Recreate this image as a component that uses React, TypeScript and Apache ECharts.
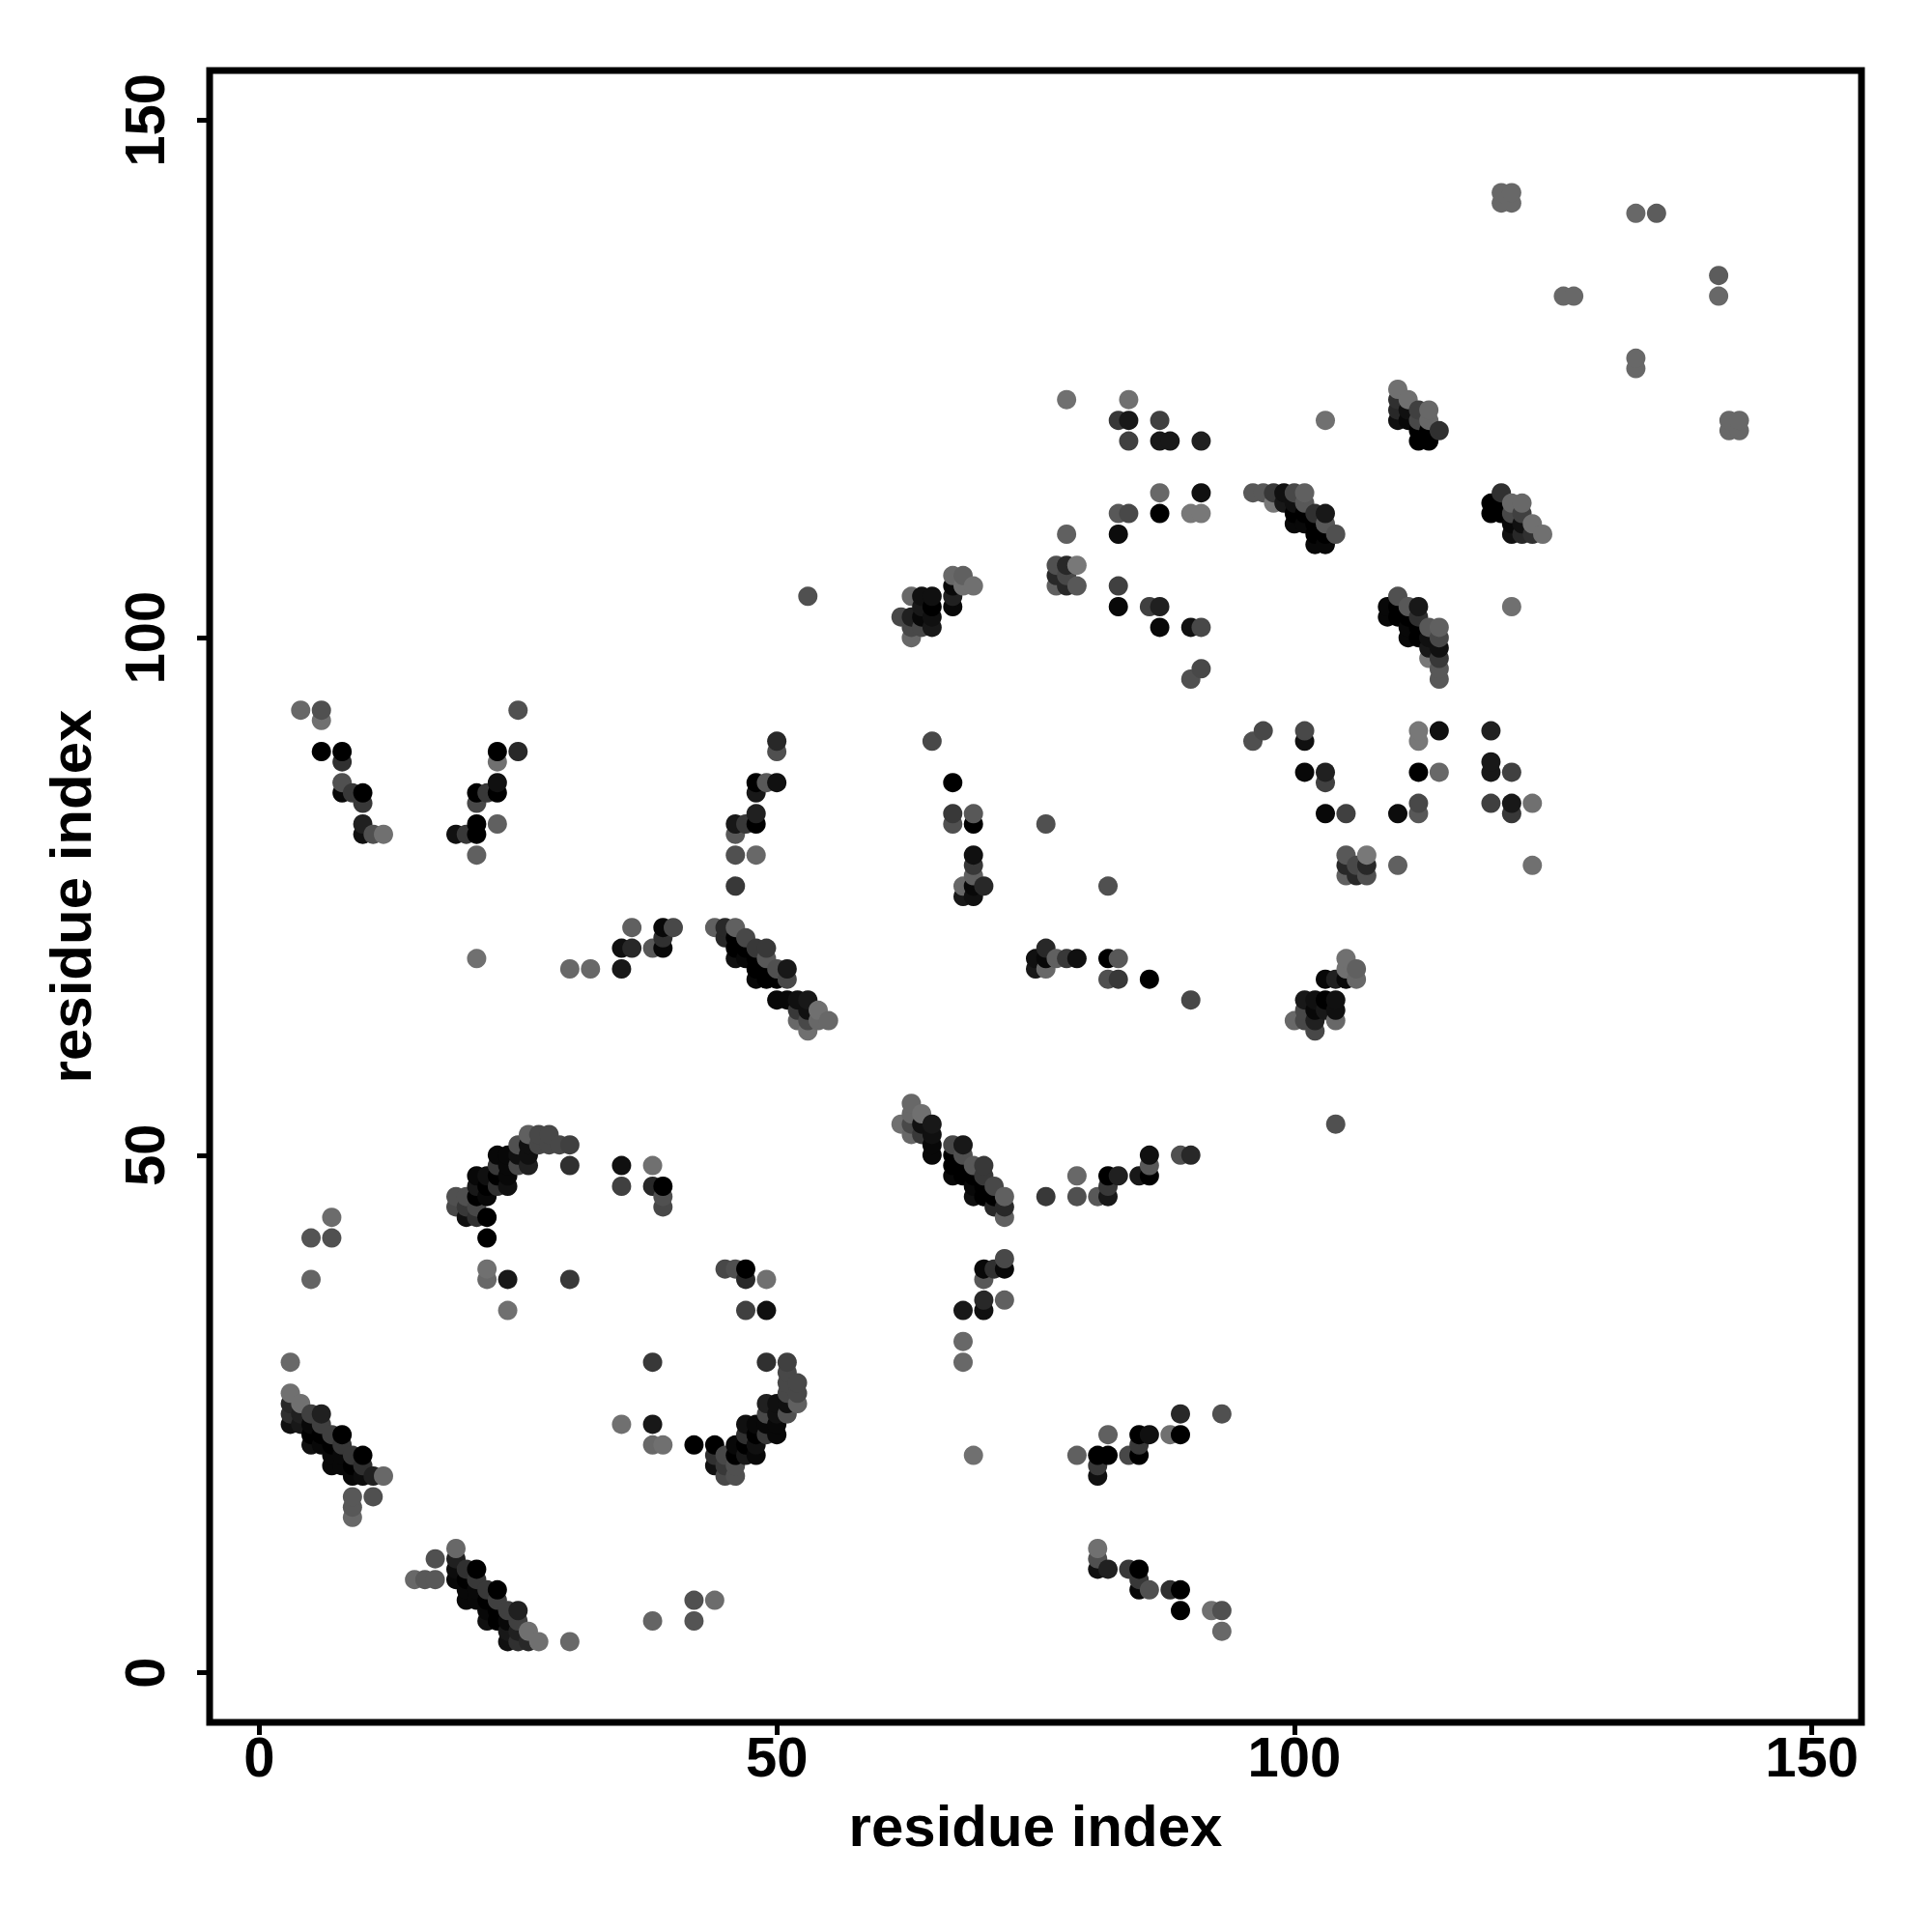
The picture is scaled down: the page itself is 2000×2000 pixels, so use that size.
import React, { useEffect, useRef } from "react";
import * as echarts from "echarts";

type Contact = [number, number, number];

// Contacts [residue i, residue j, grey level]; the map is symmetric, each pair listed once with i < j.
const hairpinA: Contact[] = [
  [3,24,16],[3,25,48],[3,26,40],[3,27,112],[3,30,104],
  [4,24,24],[4,25,32],[4,26,112],
  [5,22,16],[5,23,0],[5,24,8],[5,25,64],[5,38,100],[5,42,84],
  [6,22,8],[6,23,0],[6,24,64],[6,25,32],
  [7,20,8],[7,21,8],[7,22,0],[7,23,64],[7,42,80],[7,44,108],
  [8,20,8],[8,21,8],[8,22,56],[8,23,0],
  [9,15,104],[9,16,88],[9,17,88],[9,19,8],[9,20,0],[9,21,56],
  [10,19,12],[10,20,48],[10,21,0],
  [11,17,80],[11,19,32],[12,19,104],
];
const arcB: Contact[] = [
  [19,45,72],[19,46,80],[20,44,16],[20,45,56],[20,46,80],
  [21,44,48],[21,45,72],[21,46,0],[21,47,24],[21,48,8],
  [22,38,104],[22,39,112],[22,42,0],[22,44,0],[22,46,8],[22,47,0],[22,48,16],
  [23,47,48],[23,48,0],[23,49,56],[23,50,8],
  [24,35,112],[24,38,24],[24,47,16],[24,48,8],[24,49,8],[24,50,8],
  [25,49,72],[25,50,16],[25,51,80],
  [26,49,32],[26,50,16],[26,51,16],[26,52,96],
  [27,51,72],[27,52,72],[28,51,72],[28,52,72],[29,51,72],
  [30,38,56],[30,49,48],[30,51,64],[30,68,104],[32,68,104],
];
const pocketC: Contact[] = [
  [35,47,64],[35,49,16],[35,68,24],[35,70,16],[36,70,40],[36,72,96],
  [38,47,40],[38,49,112],[38,70,88],
  [39,45,72],[39,46,80],[39,47,0],[39,70,8],[39,71,48],[39,72,8],[40,72,72],
];
const sheetD: Contact[] = [
  [44,72,96],[45,71,40],[45,72,40],
  [46,69,16],[46,70,0],[46,71,0],[46,72,96],[46,76,56],[46,79,80],[46,81,88],[46,82,24],
  [47,69,8],[47,70,0],[47,71,72],[47,82,56],
  [48,67,8],[48,68,0],[48,69,0],[48,70,56],[48,79,104],[48,82,0],[48,83,32],[48,85,24],[48,86,0],
  [49,67,0],[49,68,0],[49,69,88],[49,70,56],[49,86,88],
  [50,65,8],[50,67,0],[50,68,80],[50,86,16],[50,89,80],[50,90,40],
  [51,65,8],[51,67,72],[51,68,24],
  [52,63,104],[52,64,56],[52,65,16],
  [53,62,112],[53,63,72],[53,64,16],[53,65,24],[53,104,80],
  [54,63,104],[54,64,112],[55,63,104],
];
const clusterE: Contact[] = [
  [4,93,104],[6,89,0],[6,92,112],[6,93,80],
  [8,85,8],[8,86,80],[8,88,48],[8,89,0],[9,85,56],
  [10,81,16],[10,82,32],[10,84,56],[10,85,0],[11,81,80],[12,81,112],
  [19,81,16],[20,81,56],[21,69,112],[21,79,96],[21,81,0],[21,82,0],[21,84,72],[21,85,0],
  [22,85,56],[23,82,96],[23,85,0],[23,86,16],[23,88,112],[23,89,0],[25,89,40],[25,93,80],
];
const clusterF: Contact[] = [
  [62,102,72],[63,100,104],[63,101,72],[63,102,32],[63,104,104],
  [64,101,72],[64,102,8],[64,103,24],[64,104,16],
  [65,90,72],[65,101,24],[65,102,16],[65,103,0],[65,104,16],
  [67,82,80],[67,83,56],[67,86,0],[67,103,8],[67,104,32],[67,105,8],[67,106,104],
  [68,75,24],[68,76,104],[68,105,112],[68,106,96],
  [69,75,16],[69,76,8],[69,77,96],[69,78,56],[69,79,16],[69,82,0],[69,83,88],[69,105,112],
  [70,76,40],[76,82,80],
];
const clusterG: Contact[] = [
  [77,105,96],[77,106,40],[77,107,80],[78,105,40],[78,106,72],[78,107,40],[78,110,96],[78,123,112],
  [79,105,88],[79,107,120],
  [83,103,8],[83,105,64],[83,110,12],[83,112,88],[83,121,56],
  [84,112,72],[84,119,64],[84,121,24],[84,123,112],
  [86,103,64],[87,101,8],[87,103,32],[87,112,0],[87,114,104],[87,119,24],[87,121,64],[88,119,24],
  [90,96,80],[90,101,16],[90,112,120],[91,97,72],[91,101,72],[91,112,120],[91,114,16],[91,119,32],
];
const sheetH: Contact[] = [
  [96,114,88],[97,114,88],[98,113,120],[98,114,56],[99,113,24],[99,114,16],
  [100,111,8],[100,112,0],[100,113,16],[100,114,72],
  [101,111,8],[101,112,0],[101,113,88],[101,114,96],
  [102,109,8],[102,110,0],[102,111,0],[102,112,48],
  [103,109,8],[103,110,0],[103,111,88],[103,112,24],[103,121,112],[104,110,80],
];
const sheetI: Contact[] = [
  [110,121,16],[110,122,40],[110,123,48],[110,124,112],
  [111,121,8],[111,122,16],[111,123,112],
  [112,119,0],[112,120,0],[112,121,72],[112,122,64],
  [113,119,0],[113,120,0],[113,121,104],[113,122,104],[114,120,48],
];
const tailK: Contact[] = [
  [120,142,104],[120,143,104],[121,142,104],[121,143,104],
  [126,133,104],[127,133,104],[133,141,104],[135,141,92],
];

const contacts: Contact[] = [
  ...hairpinA, ...arcB, ...pocketC, ...sheetD, ...clusterE, ...clusterF, ...clusterG, ...sheetH, ...sheetI, ...tailK,
];

const tickValues = [0, 50, 100, 150];
const axisName = "residue index";

const points = contacts
  .flatMap(([i, j, level]) => [[i, j, level], [j, i, level]])
  .sort((a, b) => a[0] - b[0] || a[1] - b[1]);

const FONT = '"Liberation Sans", Arial, sans-serif';

export default function App() {
  const ref = useRef<HTMLDivElement>(null);
  useEffect(() => {
    const chart = echarts.init(ref.current!, undefined, { renderer: "svg" });
    const axis = {
      type: "value",
      min: -4.8,
      max: 154.8,
      splitLine: { show: false },
      axisLine: { show: false, onZero: false },
      axisTick: { show: true, length: 13, customValues: tickValues, lineStyle: { color: "#000", width: 5 } },
      name: axisName,
      nameLocation: "middle",
      nameTextStyle: { color: "#000", fontFamily: FONT, fontWeight: "bold", fontSize: 60 },
    };
    chart.setOption({
      animation: false,
      backgroundColor: "#fff",
      grid: { left: 217, right: 73, top: 73, bottom: 217, show: true, borderColor: "#000", borderWidth: 7, backgroundColor: "transparent" },
      xAxis: {
        ...axis,
        nameGap: 77,
        axisLabel: { show: true, customValues: tickValues, color: "#000", fontFamily: FONT, fontWeight: "bold", fontSize: 58, margin: 6, hideOverlap: false },
      },
      yAxis: {
        ...axis,
        nameGap: 114,
        nameRotate: 90,
        axisLabel: { show: true, customValues: tickValues, rotate: 90, color: "#000", fontFamily: FONT, fontWeight: "bold", fontSize: 58, margin: 39, hideOverlap: false },
      },
      series: [
        {
          type: "scatter",
          data: points,
          symbol: "circle",
          symbolSize: 20,
          silent: true,
          itemStyle: {
            opacity: 1,
            color: (p: any) => {
              const g = p.value[2];
              return `rgb(${g},${g},${g})`;
            },
          },
        },
      ],
    });
    return () => chart.dispose();
  }, []);
  return <div ref={ref} style={{ position: "fixed", left: 0, top: 0, width: 2000, height: 2000 }} />;
}
